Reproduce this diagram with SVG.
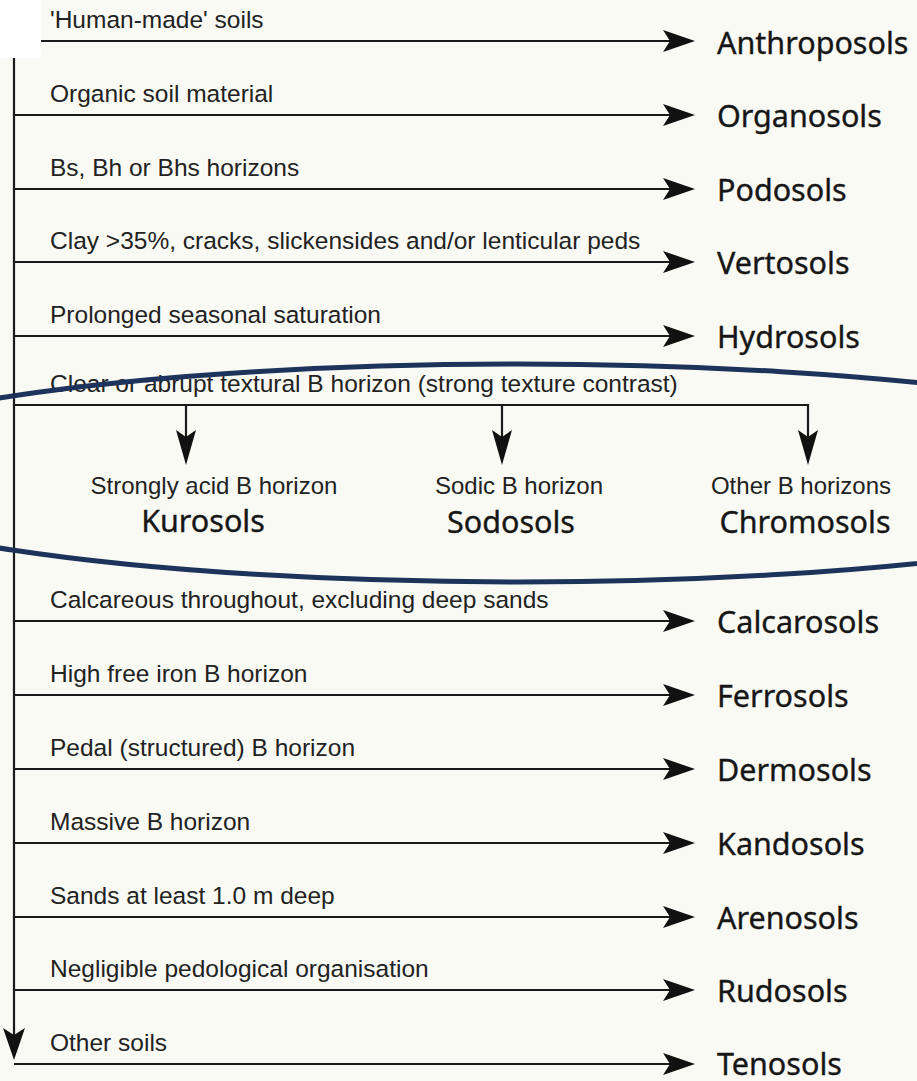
<svg xmlns="http://www.w3.org/2000/svg" width="917" height="1081" viewBox="0 0 917 1081">
<style>
.lbl{font-family:"Liberation Sans",Arial,sans-serif;font-size:24.5px;fill:#222}
.sub{font-family:"Liberation Sans",Arial,sans-serif;font-size:24px;fill:#222;text-anchor:middle}
.name{font-family:"Noto Sans","Open Sans",sans-serif;font-size:30.5px;fill:#161616;stroke:#161616;stroke-width:0.35}
.cname{font-family:"Noto Sans","Open Sans",sans-serif;font-size:30.5px;fill:#161616;stroke:#161616;stroke-width:0.35;text-anchor:middle}
.ln{fill:none;stroke:#1a1a1a;stroke-width:2.2}
.ell{fill:none;stroke:#1e335c;stroke-width:5}
</style>
<defs>
<marker id="ah" markerUnits="userSpaceOnUse" viewBox="0 0 32 22" refX="7" refY="11" markerWidth="32" markerHeight="22" orient="auto">
<path d="M0,0 L32,11 L0,22 L7,11 Z" fill="#111"/>
</marker>
<marker id="ahd" markerUnits="userSpaceOnUse" viewBox="0 0 35 20" refX="7" refY="10" markerWidth="35" markerHeight="20" orient="auto">
<path d="M0,0 L35,10 L0,20 L7,10 Z" fill="#111"/>
</marker>
</defs>
<rect x="0" y="0" width="917" height="1081" fill="#fafaf5"/>
<rect x="0" y="0" width="41" height="58" fill="#ffffff"/>

<g id="connectors">
<path class="ln" d="M14,58 V1035" marker-end="url(#ah)"/>
<path class="ln" d="M41,41 H670" marker-end="url(#ah)"/>
<path class="ln" d="M14,115 H670" marker-end="url(#ah)"/>
<path class="ln" d="M14,189 H670" marker-end="url(#ah)"/>
<path class="ln" d="M14,262 H670" marker-end="url(#ah)"/>
<path class="ln" d="M14,336 H670" marker-end="url(#ah)"/>
<path class="ln" d="M14,405 H808 V437" marker-end="url(#ahd)"/>
<path class="ln" d="M186,405 V437" marker-end="url(#ahd)"/>
<path class="ln" d="M502,405 V437" marker-end="url(#ahd)"/>
<path class="ln" d="M14,621 H670" marker-end="url(#ah)"/>
<path class="ln" d="M14,695 H670" marker-end="url(#ah)"/>
<path class="ln" d="M14,769 H670" marker-end="url(#ah)"/>
<path class="ln" d="M14,843 H670" marker-end="url(#ah)"/>
<path class="ln" d="M14,917 H670" marker-end="url(#ah)"/>
<path class="ln" d="M14,990 H670" marker-end="url(#ah)"/>
<path class="ln" d="M14,1064 H670" marker-end="url(#ah)"/>
</g>

<g id="anthroposols"><text class="lbl" x="50" y="28">'Human-made' soils</text><text class="name" x="717" y="54">Anthroposols</text></g>
<g id="organosols"><text class="lbl" x="50" y="102">Organic soil material</text><text class="name" x="717" y="127">Organosols</text></g>
<g id="podosols"><text class="lbl" x="50" y="176">Bs, Bh or Bhs horizons</text><text class="name" x="717" y="201">Podosols</text></g>
<g id="vertosols"><text class="lbl" x="50" y="249">Clay &gt;35%, cracks, slickensides and/or lenticular peds</text><text class="name" x="717" y="274">Vertosols</text></g>
<g id="hydrosols"><text class="lbl" x="50" y="323">Prolonged seasonal saturation</text><text class="name" x="717" y="348">Hydrosols</text></g>
<g id="textural"><text class="lbl" x="50" y="392">Clear or abrupt textural B horizon (strong texture contrast)</text></g>
<g id="kurosols"><text class="sub" x="214" y="494">Strongly acid B horizon</text><text class="cname" x="203" y="532">Kurosols</text></g>
<g id="sodosols"><text class="sub" x="519" y="494">Sodic B horizon</text><text class="cname" x="511" y="533">Sodosols</text></g>
<g id="chromosols"><text class="sub" x="801" y="494">Other B horizons</text><text class="cname" x="805" y="533">Chromosols</text></g>
<g id="calcarosols"><text class="lbl" x="50" y="608">Calcareous throughout, excluding deep sands</text><text class="name" x="717" y="633">Calcarosols</text></g>
<g id="ferrosols"><text class="lbl" x="50" y="682">High free iron B horizon</text><text class="name" x="717" y="707">Ferrosols</text></g>
<g id="dermosols"><text class="lbl" x="50" y="756">Pedal (structured) B horizon</text><text class="name" x="717" y="781">Dermosols</text></g>
<g id="kandosols"><text class="lbl" x="50" y="830">Massive B horizon</text><text class="name" x="717" y="855">Kandosols</text></g>
<g id="arenosols"><text class="lbl" x="50" y="904">Sands at least 1.0 m deep</text><text class="name" x="717" y="929">Arenosols</text></g>
<g id="rudosols"><text class="lbl" x="50" y="977">Negligible pedological organisation</text><text class="name" x="717" y="1002">Rudosols</text></g>
<g id="tenosols"><text class="lbl" x="50" y="1051">Other soils</text><text class="name" x="717" y="1075">Tenosols</text></g>

<ellipse class="ell" cx="518" cy="473" rx="715" ry="109"/>
</svg>
